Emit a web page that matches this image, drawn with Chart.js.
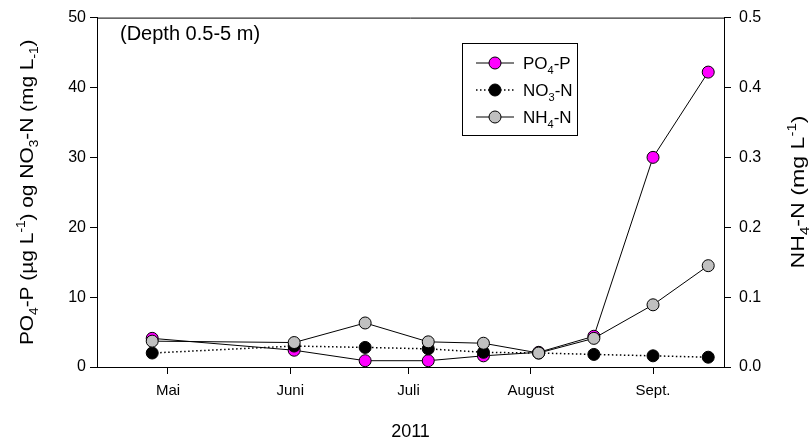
<!DOCTYPE html>
<html>
<head>
<meta charset="utf-8">
<script src="https://cdn.jsdelivr.net/npm/chart.js@4.4.1/dist/chart.umd.min.js"></script>
<style>
  html, body { margin: 0; padding: 0; background: #fff; }
  #wrap { width: 810px; height: 444px; }
</style>
</head>
<body>
<div id="wrap"><canvas id="chart" width="810" height="444"></canvas></div>
<script>
// sampling dates as day of year 2011
const sampleDays = [117, 153, 171, 187, 201, 215, 229, 244, 258];
const po4 = [4.1, 2.4, 0.9, 0.9, 1.6, 2.1, 4.4, 30.0, 42.2];      // µg/L
const no3 = [2.0, 3.0, 2.8, 2.6, 2.1, 2.0, 1.8, 1.6, 1.4];        // mg/L
const nh4 = [0.037, 0.035, 0.063, 0.036, 0.034, 0.020, 0.041, 0.089, 0.145]; // mg/L

// first day of each month
const monthDays = [121, 152, 182, 213, 244];
const monthLabels = ["Mai", "Juni", "Juli", "August", "Sept."];

const FONT = "'Liberation Sans', Arial, sans-serif";
const toXY = vals => vals.map((v, i) => ({ x: sampleDays[i], y: v }));

// text with sub/superscripts: [text, "sub" | "sup" | undefined]
function richWidth(ctx, parts, size) {
  let w = 0;
  for (const [t, k] of parts) {
    ctx.font = (k ? size * 0.65 : size) + "px " + FONT;
    w += ctx.measureText(t).width;
  }
  return w;
}
function drawRich(ctx, parts, x, y, size) {
  ctx.textBaseline = "alphabetic";
  ctx.textAlign = "left";
  for (const [t, k] of parts) {
    const s = k ? size * 0.65 : size;
    ctx.font = s + "px " + FONT;
    let dy = 0;
    if (k === "sub") dy = size * 0.28;
    if (k === "sup") dy = -size * 0.42;
    ctx.fillText(t, x, y + dy);
    x += ctx.measureText(t).width;
  }
}
// rotated title centred on (cx, cy), stretched along its length by sx
function drawVertical(ctx, parts, cx, cy, size, sx) {
  ctx.save();
  ctx.translate(cx, cy);
  ctx.rotate(-Math.PI / 2);
  ctx.scale(sx, 1);
  drawRich(ctx, parts, -richWidth(ctx, parts, size) / 2, 0, size);
  ctx.restore();
}

const leftTitle = [["PO"], ["4", "sub"], ["-P (µg L"], ["-1", "sup"], [") og NO"], ["3", "sub"], ["-N (mg L"], ["-1", "sub"], [")"]];
const rightTitle = [["NH"], ["4", "sub"], ["-N (mg L"], ["-1", "sup"], [")"]];

const legendRows = [
  { parts: [["PO"], ["4", "sub"], ["-P"]], fill: "#ff00ff", dash: [] },
  { parts: [["NO"], ["3", "sub"], ["-N"]], fill: "#000000", dash: [1.5, 2.5] },
  { parts: [["NH"], ["4", "sub"], ["-N"]], fill: "#c0c0c0", dash: [] }
];

const decorations = {
  id: "decorations",
  afterDraw(chart) {
    const ctx = chart.ctx;
    const a = chart.chartArea;
    ctx.save();
    ctx.fillStyle = "#000";
    ctx.strokeStyle = "#000";

    // frame top line
    ctx.lineWidth = 1;
    ctx.beginPath();
    ctx.moveTo(a.left, a.top + 0.5);
    ctx.lineTo(a.right, a.top + 0.5);
    ctx.stroke();

    // axis titles
    drawVertical(ctx, leftTitle, 33, (a.top + a.bottom) / 2, 19, 1.1);
    drawVertical(ctx, rightTitle, 804, 192, 19, 1.22);

    ctx.font = "18px " + FONT;
    ctx.textAlign = "center";
    ctx.fillText("2011", (a.left + a.right) / 2, 437);
    ctx.font = "20px " + FONT;
    ctx.textAlign = "left";
    ctx.fillText("(Depth 0.5-5 m)", 120, 40);

    // legend box
    const bx = 462, by = 43, bw = 115, bh = 92;
    ctx.fillStyle = "#fff";
    ctx.fillRect(bx, by, bw, bh);
    ctx.strokeRect(bx + 0.5, by + 0.5, bw, bh);
    legendRows.forEach((r, i) => {
      const y = by + 20 + i * 27;
      ctx.setLineDash(r.dash);
      ctx.lineWidth = r.dash.length ? 1.5 : 1;
      ctx.beginPath();
      ctx.moveTo(476, y);
      ctx.lineTo(514, y);
      ctx.stroke();
      ctx.setLineDash([]);
      ctx.lineWidth = 1;
      ctx.beginPath();
      ctx.arc(495, y, 6, 0, Math.PI * 2);
      ctx.fillStyle = r.fill;
      ctx.fill();
      ctx.stroke();
      ctx.fillStyle = "#000";
      drawRich(ctx, r.parts, 523, y + 6, 17);
    });
    ctx.restore();
  }
};

const pointStyle = fill => ({
  borderColor: "#000",
  pointBackgroundColor: fill,
  pointBorderColor: "#000",
  pointBorderWidth: 1,
  pointRadius: 6,
  pointHoverRadius: 6,
  tension: 0,
  fill: false
});

new Chart(document.getElementById("chart"), {
  type: "line",
  data: {
    datasets: [
      { label: "PO4-P", data: toXY(po4), yAxisID: "y", order: 3, borderWidth: 1, ...pointStyle("#ff00ff") },
      { label: "NO3-N", data: toXY(no3), yAxisID: "y", order: 2, borderWidth: 1.5, borderDash: [1.5, 2.5], ...pointStyle("#000000") },
      { label: "NH4-N", data: toXY(nh4), yAxisID: "y1", order: 1, borderWidth: 1, ...pointStyle("#c0c0c0") }
    ]
  },
  options: {
    responsive: false,
    animation: false,
    layout: { padding: { top: 15, left: 0, right: 0, bottom: 0 } },
    plugins: { legend: { display: false }, tooltip: { enabled: false } },
    scales: {
      x: {
        type: "linear",
        min: 103,
        max: 262,
        afterBuildTicks: s => { s.ticks = monthDays.map(v => ({ value: v })); },
        afterFit: s => { s.height = 77; },
        ticks: {
          callback: v => monthLabels[monthDays.indexOf(v)],
          color: "#000",
          font: { family: FONT, size: 15 },
          padding: 8,
          maxRotation: 0,
          autoSkip: false
        },
        grid: { drawOnChartArea: false, drawTicks: true, tickLength: 7, color: "#000" },
        border: { display: true, color: "#000", width: 1 }
      },
      y: {
        position: "left",
        min: 0,
        max: 50,
        afterBuildTicks: s => { s.ticks = [0, 10, 20, 30, 40, 50].map(v => ({ value: v })); },
        afterFit: s => { s.width = 97; },
        ticks: { color: "#000", font: { family: FONT, size: 16 }, padding: 4 },
        grid: { drawOnChartArea: false, drawTicks: true, tickLength: 7, color: "#000" },
        border: { display: true, color: "#000", width: 1 }
      },
      y1: {
        position: "right",
        min: 0,
        max: 0.5,
        afterBuildTicks: s => { s.ticks = [0, 0.1, 0.2, 0.3, 0.4, 0.5].map(v => ({ value: v })); },
        afterFit: s => { s.width = 86; },
        ticks: { color: "#000", font: { family: FONT, size: 16 }, padding: 8, callback: v => v.toFixed(1) },
        grid: { drawOnChartArea: false, drawTicks: true, tickLength: 7, color: "#000" },
        border: { display: true, color: "#000", width: 1 }
      }
    }
  },
  plugins: [decorations]
});
</script>
</body>
</html>
